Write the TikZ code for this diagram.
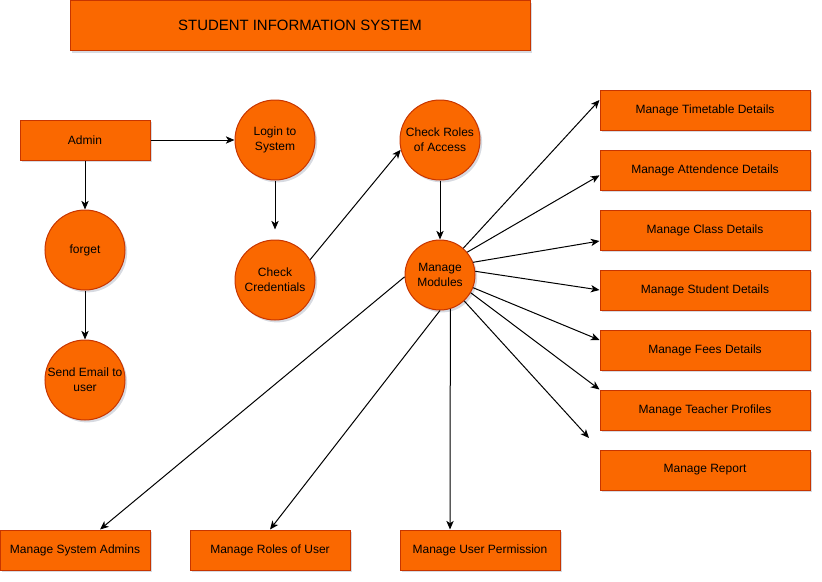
\documentclass[tikz,border=0pt]{standalone}
\usepackage{fontspec}
\setmainfont{Liberation Sans}
\usetikzlibrary{arrows.meta,shadows}
\definecolor{boxfill}{HTML}{FA6800}
\definecolor{boxline}{HTML}{C73500}
\definecolor{shadowc}{HTML}{8C94A8}
\tikzset{
  base/.style={draw=boxline, fill=boxfill, line width=0.75pt, text=black,
    font=\fontsize{9pt}{11pt}\selectfont, align=center, inner sep=0pt,
    drop shadow={shadow xshift=1.6pt, shadow yshift=-1.8pt, opacity=0.35, fill=shadowc}},
  box/.style={base, rectangle, minimum width=97.5pt, minimum height=30pt},
  widebox/.style={box, minimum width=157.5pt},
  lowbox/.style={box, minimum width=120pt},
  circ/.style={base, circle, minimum size=60pt},
  flow/.style={draw=black, line width=0.75pt, -{Stealth[length=6.5pt,width=5.5pt,inset=1.8pt]}}
}
\begin{document}
\begin{tikzpicture}[x=0.75pt, y=-0.75pt]
\useasboundingbox (0,0) rectangle (822,582);

% title
\node[base, rectangle, minimum width=345pt, minimum height=37.5pt,
      font=\fontsize{11.2pt}{13pt}\selectfont] (title) at (300,25.5) {STUDENT INFORMATION SYSTEM};

% login branch
\node[box] (admin) at (85,140) {Admin};
\node[circ] (forget) at (85,250) {forget};
\node[circ] (email) at (85,380) {Send Email to\\user};
\node[circ] (login) at (275,140) {Login to\\System};
\node[circ] (cred) at (275,280) {Check\\Credentials};
\node[circ] (roles) at (440,140) {Check Roles\\of Access};
\node[circ, minimum size=52.5pt] (mods) at (440,275) {Manage\\Modules};

% module boxes on the right
\node[widebox] (tt)   at (705,110) {Manage Timetable Details};
\node[widebox] (att)  at (705,170) {Manage Attendence Details};
\node[widebox] (cls)  at (705,230) {Manage Class Details};
\node[widebox] (stu)  at (705,290) {Manage Student Details};
\node[widebox] (fees) at (705,350) {Manage Fees Details};
\node[widebox] (tch)  at (705,410) {Manage Teacher Profiles};
\node[widebox] (rep)  at (705,470) {Manage Report};

% module boxes along the bottom
\node[box, minimum width=112.5pt] (sysadm) at (75,550) {Manage System Admins};
\node[lowbox] (rolesu) at (270,550) {Manage Roles of User};
\node[lowbox] (perm)   at (480,550) {Manage User Permission};

\coordinate (loose) at (589,438);

% connectors
\draw[flow] (admin.east) -- (login.west);
\draw[flow] (admin.south) -- (forget.north);
\draw[flow] (forget.south) -- (email.north);
\draw[flow, shorten >=7.5pt] (login.south) -- (cred.north);
\draw[flow] (cred.30) -- (roles.194);
\draw[flow] (roles.south) -- (mods.north);

\draw[flow] (mods.49)  -- ([yshift=7.5pt]tt.west);
\draw[flow] (mods.40)  -- ([yshift=-4pt]att.west);
\draw[flow] (mods.21)  -- ([yshift=-8.25pt]cls.west);
\draw[flow] (mods.6)   -- (stu.west);
\draw[flow] (mods.-21) -- ([yshift=7.5pt]fees.west);
\draw[flow] (mods.-30) -- (tch.north west);
\draw[flow] (mods.-47) -- (loose);

\draw[flow] (mods.183) -- ([xshift=18.75pt]sysadm.north);
\draw[flow] (mods.south) -- (rolesu.north);
\draw[flow] (mods.-73) -- ([xshift=-22.5pt]perm.north);
\end{tikzpicture}
\end{document}
